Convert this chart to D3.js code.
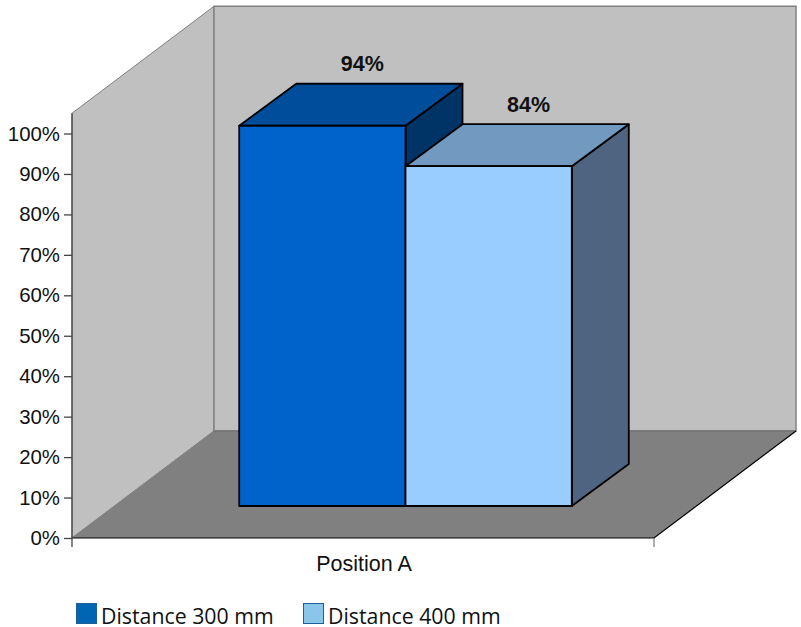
<!DOCTYPE html>
<html><head><meta charset="utf-8">
<script src="https://cdn.jsdelivr.net/npm/d3@7/dist/d3.min.js"></script>
<style>html,body{margin:0;padding:0;background:#fff}svg{display:block}</style></head>
<body><svg id="c" width="801" height="627"></svg>
<script>
const categories = ["Position A"];
const seriesNames = ["Distance 300 mm", "Distance 400 mm"];
const seriesValues = [94, 84];
const seriesLabels = ["94%", "84%"];
const tickValues = [0,10,20,30,40,50,60,70,80,90,100];
const frontColors = ["#0063cc", "#99ccff"];
const topColors = ["#004d9c", "#7299bf"];
const sideColors = ["#003366", "#4f6480"];
const legendColors = ["#0066b3", "#8ac6ea"];

const svg = d3.select("#c");
const x0 = 72, x1 = 654, yBase = 538, yFull = 133.5;
const wallDx = 142, wallDy = -107;
const y = d3.scaleLinear().domain([0,100]).range([yBase, yFull]);
const yMax = y(105);
const path = pts => "M" + pts.map(p => p.join(",")).join("L") + "Z";

// walls and floor
svg.append("path").attr("d", path([[x0,yBase],[x0,yMax],[x0+wallDx,yMax+wallDy],[x0+wallDx,yBase+wallDy]]))
  .attr("fill","#c0c0c0").attr("stroke","#808080").attr("stroke-width",1);
svg.append("path").attr("d", path([[x0+wallDx,yBase+wallDy],[x0+wallDx,yMax+wallDy],[x1+wallDx,yMax+wallDy],[x1+wallDx,yBase+wallDy]]))
  .attr("fill","#c0c0c0").attr("stroke","#808080").attr("stroke-width",1.5);
svg.append("path").attr("d", path([[x0,yBase],[x0+wallDx,yBase+wallDy],[x1+wallDx,yBase+wallDy],[x1,yBase]]))
  .attr("fill","#808080");
svg.append("path").attr("d", `M${x0+wallDx},${yBase+wallDy}H${x1+wallDx}`).attr("stroke","#737373").attr("stroke-width",1.5);
svg.append("path").attr("d", `M${x0},${yBase}L${x0+wallDx},${yBase+wallDy}`).attr("stroke","#808080");
svg.append("path").attr("d", `M${x0},${yBase}H${x1}L${x1+wallDx},${yBase+wallDy}`).attr("fill","none").attr("stroke","#000").attr("stroke-width",1.2);

// bars
const barOffX = 42.5, barOffY = -32, barDx = 57, barDy = -42;
const xCat = d3.scaleBand().domain(categories).range([x0+barOffX, x1+barOffX]);
const xSer = d3.scaleBand().domain(seriesNames).range([xCat(categories[0]), xCat(categories[0])+xCat.bandwidth()]).paddingInner(0).paddingOuter(0.75);
const bars = svg.append("g").attr("stroke","#000").attr("stroke-width",1.8).attr("stroke-linejoin","round");
seriesNames.forEach((s,i)=>{
  const l = xSer(s), r = l + xSer.bandwidth();
  const b = y(0)+barOffY, t = y(seriesValues[i])+barOffY;
  bars.append("path").attr("d", path([[r,b],[r,t],[r+barDx,t+barDy],[r+barDx,b+barDy]])).attr("fill",sideColors[i]);
  bars.append("path").attr("d", path([[l,t],[l+barDx,t+barDy],[r+barDx,t+barDy],[r,t]])).attr("fill",topColors[i]);
});
// fronts last so first bar's side is covered as in the reference
seriesNames.forEach((s,i)=>{
  const l = xSer(s), b = y(0)+barOffY, t = y(seriesValues[i])+barOffY;
  bars.append("rect").attr("x",l).attr("y",t).attr("width",xSer.bandwidth()).attr("height",b-t).attr("fill",frontColors[i]);
});
const labelDy = [-13, -12];
seriesNames.forEach((s,i)=>{
  const cx = xSer(s)+xSer.bandwidth()/2+40, t = y(seriesValues[i])+barOffY+barDy;
  svg.append("text").attr("x",cx).attr("y",t+labelDy[i]).attr("text-anchor","middle")
    .attr("font-family","Liberation Sans").attr("font-weight","bold").attr("font-size",21.5).attr("fill","#111").text(seriesLabels[i]);
});

// y axis
const axis = d3.axisLeft(y).tickValues(tickValues).tickFormat(d=>d+"%").tickSize(8).tickPadding(4);
const ga = svg.append("g").attr("transform",`translate(${x0},0)`).call(axis);
ga.select(".domain").remove();
ga.append("line").attr("x1",0).attr("x2",0).attr("y1",yMax).attr("y2",yBase+9).attr("stroke","#444").attr("stroke-width",1.3);
ga.selectAll(".tick line").attr("stroke","#444").attr("stroke-width",1.3);
ga.selectAll("text").attr("font-family","Liberation Sans").attr("font-size",20.4).attr("fill","#111");

// x axis
svg.append("line").attr("x1",x1).attr("x2",x1).attr("y1",yBase).attr("y2",yBase+9).attr("stroke","#808080").attr("stroke-width",1.3);
svg.append("text").attr("x",(x0+x1)/2+1).attr("y",571).attr("text-anchor","middle")
  .attr("font-family","Liberation Sans").attr("font-size",21.5).attr("fill","#111").text(categories[0]);

// legend
const legX = [76,303];
seriesNames.forEach((s,i)=>{
  svg.append("rect").attr("x",legX[i]+0.5).attr("y",603.5).attr("width",20).attr("height",20)
    .attr("fill",legendColors[i]).attr("stroke","#1f5f99");
  svg.append("text").attr("x",legX[i]+25).attr("y",623.5).attr("font-family","Open Sans").attr("font-size",21.3).attr("fill","#111").text(s);
});
</script></body></html>
